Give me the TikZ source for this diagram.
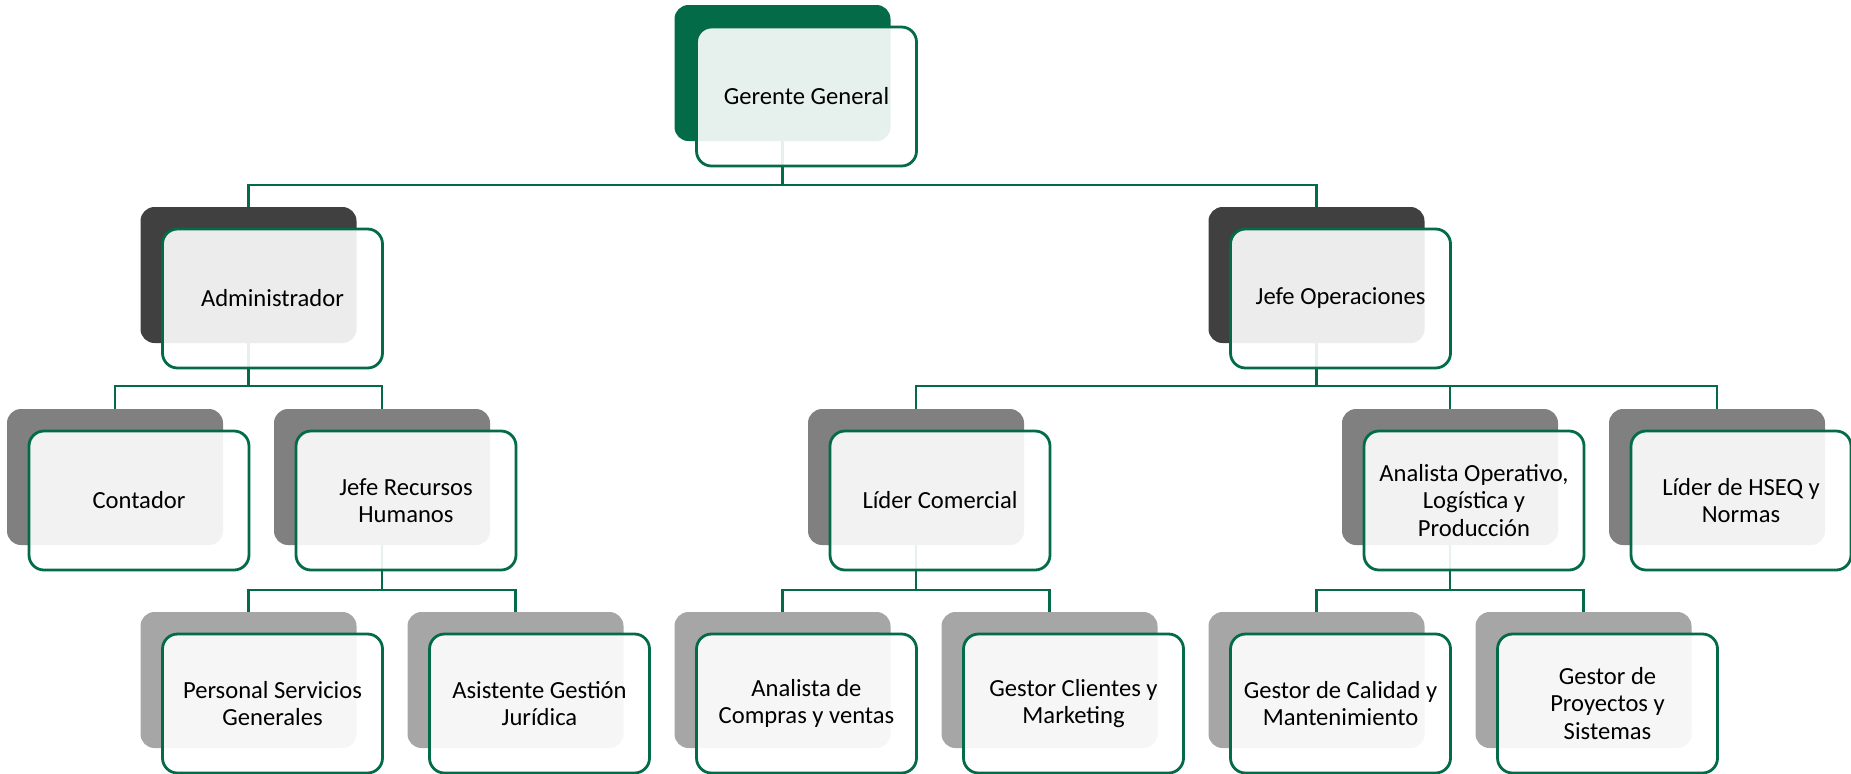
\documentclass[tikz,border=0pt]{standalone}
\usepackage{fontspec}
\setmainfont{Carlito}
\definecolor{orggreen}{HTML}{046B48}
\definecolor{lvlone}{HTML}{404040}
\definecolor{lvltwo}{HTML}{808080}
\definecolor{lvlthree}{HTML}{A6A6A6}
\tikzset{
  backbox/.style={rectangle, rounded corners=7pt, draw=none, inner sep=0pt, outer sep=0pt,
    minimum width=108pt, minimum height=68pt, anchor=north west},
  frontbox/.style={rectangle, rounded corners=7.5pt, draw=orggreen, line width=1.4pt,
    fill=white, fill opacity=0.9, text opacity=1, inner sep=0pt, outer sep=0pt,
    minimum width=110pt, minimum height=69.5pt, anchor=north west, align=center,
    font=\fontsize{12.3}{13.6}\selectfont, text=black},
  conn/.style={draw=orggreen, line width=1.4pt}
}
\newcommand\orgback[4]{\node[backbox, fill=#2] (#1-b) at (#3,#4) {};}
\newcommand\orgfront[2]{\node[frontbox] (#1) at ([shift={(22,22)}]#1-b.north west) {#2};}
\begin{document}
\begin{tikzpicture}[x=0.5pt,y=-0.5pt]
\useasboundingbox (0,0) rectangle (1851,773);
% back boxes
\orgback{gg}{orggreen}{674.5}{5}
\orgback{adm}{lvlone}{140.5}{207}
\orgback{jop}{lvlone}{1208.5}{207}
\orgback{con}{lvltwo}{7}{409}
\orgback{rrhh}{lvltwo}{274}{409}
\orgback{lco}{lvltwo}{808}{409}
\orgback{aop}{lvltwo}{1342}{409}
\orgback{hseq}{lvltwo}{1609}{409}
\orgback{psg}{lvlthree}{140.5}{612}
\orgback{agj}{lvlthree}{407.5}{612}
\orgback{acv}{lvlthree}{674.5}{612}
\orgback{gcm}{lvlthree}{941.5}{612}
\orgback{gcal}{lvlthree}{1208.5}{612}
\orgback{gps}{lvlthree}{1475.5}{612}
% connectors
\draw[conn] (gg-b.south) -- ++(0,44) -| (adm-b.north);
\draw[conn] (gg-b.south) -- ++(0,44) -| (jop-b.north);
\draw[conn] (adm-b.south) -- ++(0,43) -| (con-b.north);
\draw[conn] (adm-b.south) -- ++(0,43) -| (rrhh-b.north);
\draw[conn] (jop-b.south) -- ++(0,43) -| (lco-b.north);
\draw[conn] (jop-b.south) -- ++(0,43) -| (aop-b.north);
\draw[conn] (jop-b.south) -- ++(0,43) -| (hseq-b.north);
\draw[conn] (rrhh-b.south) -- ++(0,45) -| (psg-b.north);
\draw[conn] (rrhh-b.south) -- ++(0,45) -| (agj-b.north);
\draw[conn] (lco-b.south) -- ++(0,45) -| (acv-b.north);
\draw[conn] (lco-b.south) -- ++(0,45) -| (gcm-b.north);
\draw[conn] (aop-b.south) -- ++(0,45) -| (gcal-b.north);
\draw[conn] (aop-b.south) -- ++(0,45) -| (gps-b.north);
% front boxes
\orgfront{gg}{Gerente General}
\orgfront{adm}{Administrador}
\orgfront{jop}{Jefe Operaciones}
\orgfront{con}{Contador}
\orgfront{rrhh}{Jefe Recursos\\Humanos}
\orgfront{lco}{Líder Comercial}
\orgfront{aop}{Analista Operativo,\\Logística y\\Producción}
\orgfront{hseq}{Líder de HSEQ y\\Normas}
\orgfront{psg}{Personal Servicios\\Generales}
\orgfront{agj}{Asistente Gestión\\Jurídica}
\orgfront{acv}{Analista de\\Compras y ventas}
\orgfront{gcm}{Gestor Clientes y\\Marketing}
\orgfront{gcal}{Gestor de Calidad y\\Mantenimiento}
\orgfront{gps}{Gestor de\\Proyectos y\\Sistemas}
\end{tikzpicture}
\end{document}
